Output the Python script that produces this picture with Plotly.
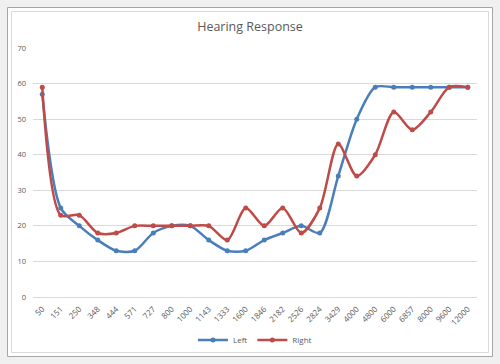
import plotly.graph_objects as go

freqs = ["50", "151", "250", "348", "444", "571", "727", "800", "1000", "1143", "1333",
         "1600", "1846", "2182", "2526", "2824", "3429", "4000", "4800", "6000", "6857",
         "8000", "9600", "12000"]
left = [57, 25, 20, 16, 13, 13, 18, 20, 20, 16, 13, 13, 16, 18, 20, 18, 34, 50, 59, 59, 59, 59, 59, 59]
right = [59, 23, 23, 18, 18, 20, 20, 20, 20, 20, 16, 25, 20, 25, 18, 25, 43, 34, 40, 52, 47, 52, 59, 59]
y_ticks = [0, 10, 20, 30, 40, 50, 60, 70]

BLUE = "#4a7ebb"
RED = "#be4b48"

fig = go.Figure()
fig.add_trace(go.Scatter(x=freqs, y=left, name="Left", mode="lines+markers",
                         line=dict(color=BLUE, width=2.5, shape="spline", smoothing=0.8),
                         marker=dict(color=BLUE, size=5)))
fig.add_trace(go.Scatter(x=freqs, y=right, name="Right", mode="lines+markers",
                         line=dict(color=RED, width=2.5, shape="spline", smoothing=0.8),
                         marker=dict(color=RED, size=5)))

L, R, T, B = 33, 23, 48, 67
W, H = 500, 364
pw, ph = W - L - R, H - T - B


def px(x):
    return (x - L) / pw


def py(y):
    return (H - B - y) / ph


fig.update_layout(
    width=W, height=H,
    margin=dict(l=L, r=R, t=T, b=B, autoexpand=False),
    paper_bgcolor="#f0f0f0",
    plot_bgcolor="rgba(0,0,0,0)",
    font=dict(family="Open Sans", color="#595959", size=8),
    title=dict(text="Hearing Response", x=0.5, xanchor="center", y=1 - 27 / H, yanchor="middle",
               font=dict(size=12.5, color="#595959", family="Open Sans")),
    showlegend=True,
    legend=dict(orientation="h", x=0.5, xanchor="center", y=py(340), yanchor="middle",
                font=dict(size=8, color="#595959"), bgcolor="rgba(0,0,0,0)",
                itemwidth=30, tracegroupgap=0),
    xaxis=dict(type="category", range=[-0.5, len(freqs) - 0.5], tickangle=-45, showgrid=False,
               showline=False, automargin=False,
               ticks="", tickfont=dict(size=8, color="#595959"), ticklabelstandoff=5),
    yaxis=dict(range=[0, 70], tickvals=y_ticks, showgrid=True, gridcolor="#d9d9d9", gridwidth=1,
               zeroline=True, zerolinecolor="#d9d9d9", zerolinewidth=1, showline=False, automargin=False,
               ticks="", tickfont=dict(size=7.5, color="#595959"), ticklabelstandoff=6),
    shapes=[
        dict(type="rect", xref="paper", yref="paper", x0=px(7.5), x1=px(492.5), y0=py(356.5), y1=py(7.5),
             line=dict(color="#a6a6a6", width=1), fillcolor="white", layer="below"),
        dict(type="rect", xref="paper", yref="paper", x0=px(11.5), x1=px(488.5), y0=py(352.5), y1=py(11.5),
             line=dict(color="#d9d9d9", width=1), fillcolor="white", layer="below"),
    ],
)

fig.write_html("out.html", config={"displayModeBar": False},
               post_script="document.body.style.margin='0px';document.body.style.background='#f0f0f0';")
